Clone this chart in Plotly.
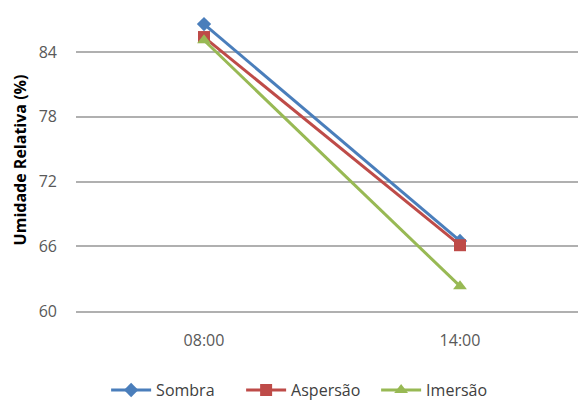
import plotly.graph_objects as go

horarios = ["08:00", "14:00"]
sombra = [86.6, 66.5]
aspersao = [85.4, 66.1]
imersao = [85.1, 62.3]
y_ticks = [60, 66, 72, 78, 84]

series = [
    ("Sombra", sombra, "#4A7EBB", "diamond", 11),
    ("Aspersão", aspersao, "#BE4B48", "square", 12),
    ("Imersão", imersao, "#98B954", "triangle-up", 12),
]

fig = go.Figure()
for name, vals, color, symbol, size in series:
    fig.add_trace(go.Scatter(
        x=horarios, y=vals, name=name, mode="lines+markers",
        line=dict(color=color, width=3),
        marker=dict(symbol=symbol, size=size, color=color),
    ))

fig.update_layout(
    width=578, height=401,
    margin=dict(l=76, r=0, t=9, b=90, autoexpand=False),
    paper_bgcolor="white", plot_bgcolor="white",
    font=dict(family="Open Sans, sans-serif", size=16, color="#595959"),
    showlegend=True,
    legend=dict(orientation="h", x=0.06, xanchor="left", y=-0.262, yanchor="middle",
                font=dict(size=16, color="#404040"), itemwidth=40, tracegroupgap=0,
                entrywidth=80, entrywidthmode="pixels"),
    xaxis=dict(type="category", range=[-0.5, 1.461], showgrid=False, automargin=False,
               showline=True, linecolor="#B0B0B0", linewidth=1.5,
               ticks="", ticklabelstandoff=14,
               tickfont=dict(size=16, color="#595959")),
    yaxis=dict(range=[60, 88], tickvals=y_ticks, showgrid=True, automargin=False,
               gridcolor="#B0B0B0", gridwidth=1.5, zeroline=False, showline=False,
               ticks="", ticklabelstandoff=18, tickfont=dict(size=16, color="#595959"),
               title=dict(text="<b>Umidade Relativa (%)</b>", font=dict(size=16, color="#000000"),
                          standoff=8)),
)

fig.write_html("out.html")
